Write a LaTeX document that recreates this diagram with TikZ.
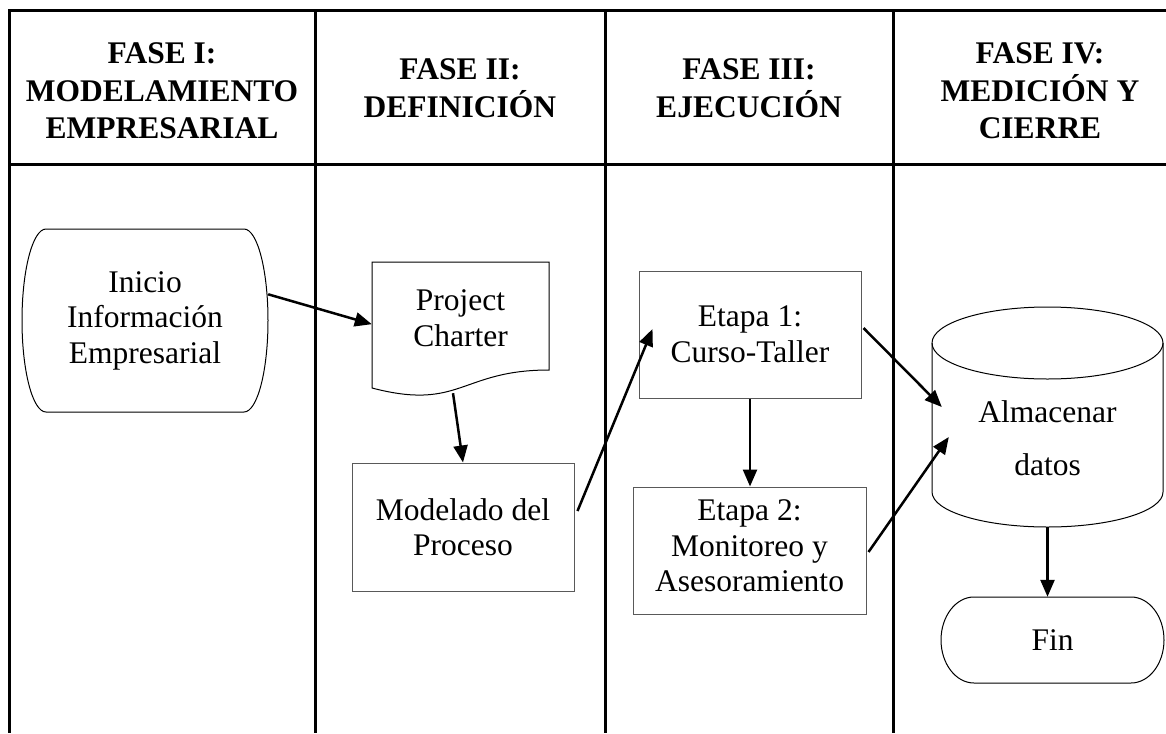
\documentclass[tikz,border=0pt]{standalone}
\usepackage{fontspec}
\setmainfont{Liberation Serif}
\usetikzlibrary{arrows.meta,calc}

\tikzset{
  fase/.style={font=\bfseries\fontsize{31.5}{37.5}\selectfont,align=center,inner sep=0pt},
  txt/.style={font=\fontsize{31.5}{35.5}\selectfont,align=center,inner sep=0pt},
  caja/.style={txt,draw=black!65,line width=1pt},
  borde/.style={line width=1pt},
  linea/.style={line width=3pt},
  flecha/.style={line width=2.5pt,-{Triangle[length=17pt,width=14pt]}}
}

\begin{document}
\begin{tikzpicture}[x=1pt,y=-1pt]
  \useasboundingbox (0,0) rectangle (1166,733);
  % tabla
  \draw[linea] (1170,11) -- (9,11) -- (9,733);
  \draw[linea] (9,164) -- (1170,164);
  \foreach \x in {315,605,893}
    \draw[linea] (\x,11) -- (\x,733);
  % encabezados
  \node[fase] (h1) at (162,91) {FASE I:\\MODELAMIENTO\\EMPRESARIAL};
  \node[fase] (h2) at (460,88) {FASE II:\\DEFINICIÓN};
  \node[fase] (h3) at (749,88) {FASE III:\\EJECUCIÓN};
  \node[fase] (h4) at (1040,91) {FASE IV:\\MEDICIÓN Y\\CIERRE};
  % nodos
  \node[txt,minimum width=246pt,minimum height=183pt] (ini) at (145,320.5) {Inicio\\Información\\Empresarial};
  \node[txt,minimum width=177pt,minimum height=126pt] (pc) at (460.5,318) {Project\\Charter};
  \node[caja,minimum width=222pt,minimum height=128pt] (mod) at (463,527) {Modelado del\\Proceso};
  \node[caja,minimum width=222pt,minimum height=127pt] (e1) at (750,334.5) {Etapa 1:\\Curso-Taller};
  \node[caja,minimum width=233pt,minimum height=127pt,text depth=9pt] (e2) at (749.5,550.5) {Etapa 2:\\Monitoreo y\\Asesoramiento};
  \node[txt,minimum width=231pt,minimum height=178pt] (alm) at (1047.5,438) {Almacenar\\[17pt]datos};
  \node[txt,minimum width=223pt,minimum height=86pt] (fin) at (1052.5,640) {Fin};
  % contornos
  \draw[borde] (46,229) -- (244,229) .. controls (257.3,229) and (268,270) .. (268,320.5)
    .. controls (268,371) and (257.3,412) .. (244,412) -- (46,412)
    .. controls (32.7,412) and (22,371) .. (22,320.5)
    .. controls (22,270) and (32.7,229) .. (46,229) -- cycle;
  \draw[borde] (372,388) -- (372,262) -- (549,262) -- (549,370)
    .. controls (460.5,370) and (460.5,411.2) .. (372,388) -- cycle;
  \draw[borde] (1047.5,343) ellipse [x radius=115.5,y radius=36];
  \draw[borde] (932,343) -- (932,492) .. controls (932,511.3) and (983.7,527) .. (1047.5,527)
    .. controls (1111.3,527) and (1163,511.3) .. (1163,492) -- (1163,343);
  \draw[borde] (974,597) -- (1131,597) .. controls (1149.2,597) and (1164,616.3) .. (1164,640)
    .. controls (1164,663.7) and (1149.2,683) .. (1131,683) -- (974,683)
    .. controls (955.8,683) and (941,663.7) .. (941,640)
    .. controls (941,616.3) and (955.8,597) .. (974,597) -- cycle;
  % flechas
  \draw[flecha] (ini.12) -- (pc.184);
  \draw[flecha] ($(pc.south)+(-7.5,12)$) -- (mod.north);
  \draw[flecha] ($(mod.east)+(3,-16)$) -- ($(e1.west)+(14,-5.5)$);
  \draw[flecha] (e1.south) -- (e1.south |- e2.north);
  \draw[flecha] ($(e1.east)+(2,-6.5)$) -- ($(alm.west)+(10,-31)$);
  \draw[flecha] ($(e2.east)+(2,1.5)$) -- ($(alm.west)+(17,-1)$);
  \draw[flecha] (alm.south) -- (alm.south |- fin.north);
\end{tikzpicture}
\end{document}
